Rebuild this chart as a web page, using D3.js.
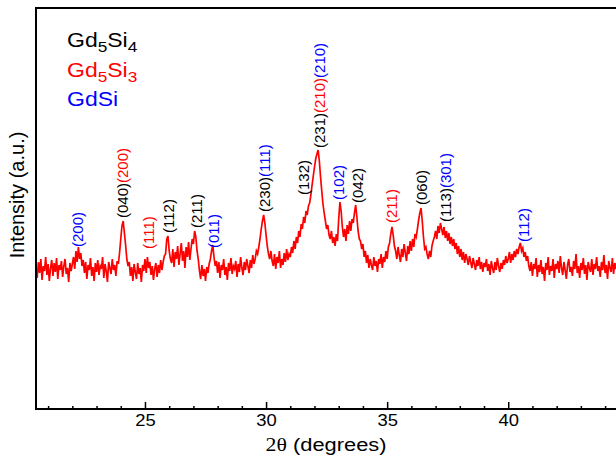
<!DOCTYPE html>
<html>
<head>
<meta charset="utf-8">
<script src="https://cdn.jsdelivr.net/npm/d3@7"></script>
<style>
  body { margin: 0; background: #fff; }
  svg { display: block; font-family: "Liberation Sans", Arial, sans-serif; }
</style>
</head>
<body>
<svg id="chart" width="616" height="459"></svg>
<script>
// phases: [formula pieces, sub index], colour
const PHASE_NAMES = [
  [["Gd", ""], ["5", "sub"], ["Si", ""], ["4", "sub"]],
  [["Gd", ""], ["5", "sub"], ["Si", ""], ["3", "sub"]],
  [["GdSi", ""]]
];
const PHASE_COLORS = ["#000000", "#ff0000", "#0000ff"];

// XRD scan, 0.05 deg step, each chunk starts at its own 2theta
const SCAN_STEP = 0.05;
const scanChunks = [
  [20.50, [140,131,147,136,150,129,143,138,152,134,145,128,141,149,133,146,137,151,130,144,139,148,132,143,150,135,141,127,146,138]],
  [22.00, [145,152,140,158,147,162,150,156,143,149]],
  [22.50, [136,147,130,144,139,151,133,142,128,146,137,149,134,143,140,152,131,145,138,127,147,141,135,150,139,144,133,148]],
  [23.90, [145,156,170,183,188,176,164,150,143,147]],
  [24.40, [133,142,128,145,137,130,146,135,141,127,144,138,150,136,152,141,147,134,143,129,140,146,132,144,136,149,139,147,153]],
  [25.85, [155,170,173,158,150]],
  [26.10, [146,160,142,157,150,163,144,155,166,148,158,141,162,152,167,149,160,170]],
  [27.00, [165,178,172,158,150]],
  [27.25, [138,130,144,133,140,128,142,136,145]],
  [27.70, [150,158,164,152,143,148]],
  [28.00, [136,147,131,144,139,150,134,142,129,146,138,151,135,143,140,148,132,145,137,152,141,134,147,139,150,143,136,149,141,154,145,150,158]],
  [29.65, [155,162,170,180,188,194,186,174,163,155,150,158,148]],
  [30.30, [143,155,140,152,146,158,141,150,144,156,147,160,149,155]],
  [31.00, [152,162,156,168,160,172,166,178,172,185,180,192,186,198,194,203]],
  [31.80, [206,214,224,233,242,250,255,259]],
  [32.20, [248,232,218,205,196,188,180,184,174,170,178,166,172,163,175,168]],
  [33.00, [190,207,198,182]],
  [33.20, [172,180,168,184,175,188,178,190]],
  [33.60, [186,196,204,192,178,170]],
  [33.90, [168,160,165,152,158,146,154,141,150,144,139,152,143,148,137,150,145,155,141,152,147,158,150,162]],
  [35.10, [166,175,182,174,163,158]],
  [35.40, [150,162,154,147,160,152,165,156,148,163,155,168,158,170,162,175]],
  [36.20, [172,180,189,196,201,188,172,160]],
  [36.60, [162,155,150,158,152,163,168]],
  [36.95, [172,178,170,183,176,186,180,174,182,171,178,168,176,165,172,163]],
  [37.75, [170,160,166,155,163,152,160,149,157,146,155,150,144,153,147,141,151,145,139,149,143,152,140,147,137,146,142,150,138,145,134,148,141,136,147,139,151,143,137,146,140,149,144,153,146]],
  [40.00, [150,157,146,155,149,158,152,160,155,162,166,158,161,152,157,148,153,143]],
  [40.90, [138,147,133,145,140,151,132,144,137,149,135,142,128,146,139,152,134,143,138,150,131,145,140,148,136,153,141,134,147,139,130,144,150,137,142,133,148,140,155,136,143,131,146,139,151,135,144,129,147,141,137,150,134,145,140,152,138,143,132,147,139,154,136,144,130,148,141,137,151,135,146,140,149]]
];

const xTickValues = d3.range(21, 45);
const xTickLabels = [25, 30, 35, 40];

// peak labels: 2theta, intensity where the label starts, [phase, hkl] pieces
const peakAngles = [22.23, 24.07, 25.16, 25.98, 27.12, 27.84, 29.94, 31.55, 32.21, 32.99, 33.77, 35.20, 36.44, 37.40, 40.62];
const peakLevels = [162, 191, 160, 176, 181, 161, 197, 214, 261, 209, 206, 186, 204, 187, 167];
const peakHkl = [
  [[2, "(200)"]],
  [[0, "(040)"], [1, "(200)"]],
  [[1, "(111)"]],
  [[0, "(112)"]],
  [[0, "(211)"]],
  [[2, "(011)"]],
  [[0, "(230)"], [2, "(111)"]],
  [[0, "(132)"]],
  [[0, "(231)"], [1, "(210)"], [2, "(210)"]],
  [[2, "(102)"]],
  [[0, "(042)"]],
  [[1, "(211)"]],
  [[0, "(060)"]],
  [[0, "(113)"], [2, "(301)"]],
  [[2, "(112)"]]
];

const svg = d3.select("#chart");
const plotLeft = 36, plotTop = 8, plotBottom = 409, plotRight = 616;
const stretch = 1.15; // the original figure is a bit wider than tall

const x = d3.scaleLinear().domain([20.5, 44.45]).range([plotLeft, plotRight]);
const y = d3.scaleLinear().domain([0, 401]).range([plotBottom, plotTop]);

const points = scanChunks.flatMap(([start, vals]) => vals.map((v, i) => [start + i * SCAN_STEP, v]));

svg.append("path")
  .datum(points)
  .attr("fill", "none")
  .attr("stroke", "#ff0000")
  .attr("stroke-width", 1.7)
  .attr("d", d3.line().x(d => x(d[0])).y(d => y(d[1])));

// bottom axis, ticks pointing in
const axis = svg.append("g")
  .attr("transform", `translate(0,${plotBottom})`)
  .call(d3.axisBottom(x)
    .tickValues(xTickValues)
    .tickSize(-3)
    .tickSizeOuter(0)
    .tickPadding(6)
    .tickFormat(d => xTickLabels.includes(d) ? d : ""));
axis.select(".domain").remove();
axis.selectAll(".tick line")
  .attr("stroke", "#000")
  .attr("stroke-width", 1.5)
  .attr("y2", d => xTickLabels.includes(d) ? -7 : -3);
axis.selectAll(".tick text")
  .attr("font-family", "Liberation Sans, Arial, sans-serif")
  .attr("font-size", 16)
  .attr("fill", "#000")
  .attr("transform", `scale(${stretch},1)`);

// frame
svg.append("path")
  .attr("fill", "none")
  .attr("stroke", "#000")
  .attr("stroke-width", 2)
  .attr("d", `M${plotRight},${plotTop}H${plotLeft}V${plotBottom}H${plotRight}`);

// axis titles
svg.append("text")
  .attr("transform", "translate(17,195) rotate(-90)")
  .attr("text-anchor", "middle")
  .attr("dominant-baseline", "central")
  .attr("font-size", 20)
  .text("Intensity (a.u.)");

const xTitle = svg.append("text")
  .attr("transform", `translate(326,451) scale(${stretch},1)`)
  .attr("text-anchor", "middle")
  .attr("font-size", 19);
xTitle.append("tspan").attr("font-family", "Liberation Serif, serif").text("2\u03b8");
xTitle.append("tspan").text(" (degrees)");

// legend
PHASE_NAMES.forEach((pieces, i) => {
  const t = svg.append("text")
    .attr("transform", `translate(67,${47 + i * 29.5}) scale(${stretch},1)`)
    .attr("font-size", 20)
    .attr("fill", PHASE_COLORS[i]);
  pieces.forEach(([s, kind]) => {
    const sp = t.append("tspan").text(s);
    if (kind === "sub") sp.attr("font-size", 15).attr("dy", 5);
    else if (t.selectAll("tspan").size() > 1) sp.attr("dy", -5);
  });
});

// peak labels
peakAngles.forEach((a, i) => {
  const t = svg.append("text")
    .attr("transform", `translate(${x(a)},${y(peakLevels[i])}) rotate(-90)`)
    .attr("dy", "0.36em")
    .attr("font-size", 15);
  peakHkl[i].forEach(([phase, s]) => {
    t.append("tspan").attr("fill", PHASE_COLORS[phase]).text(s);
  });
});
</script>
</body>
</html>
